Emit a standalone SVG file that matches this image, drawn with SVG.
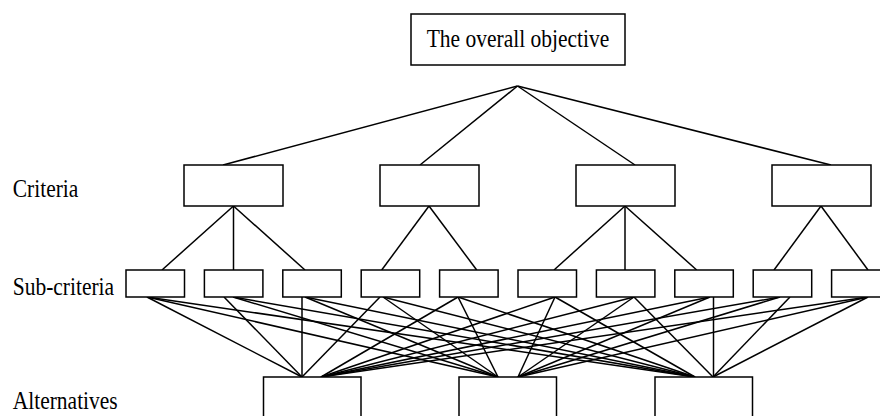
<svg xmlns="http://www.w3.org/2000/svg" width="880" height="416" viewBox="0 0 880 416">
<style>
.box{fill:#fff;stroke:#000;stroke-width:1.5}
.ln{stroke:#000;stroke-width:1.5;fill:none}
.t{font-family:"Liberation Serif","Times New Roman",serif;font-size:21.5px;fill:#000}
</style>
<rect width="880" height="416" fill="#fff"/>
<g id="connectors" class="ln">
<line x1="517.5" y1="86" x2="223" y2="165"/>
<line x1="517.5" y1="86" x2="420" y2="165"/>
<line x1="517.5" y1="86" x2="635" y2="165"/>
<line x1="517.5" y1="86" x2="831" y2="165"/>
<line x1="233.5" y1="206" x2="162" y2="270"/>
<line x1="233.5" y1="206" x2="233.5" y2="270"/>
<line x1="233.5" y1="206" x2="305" y2="270"/>
<line x1="429" y1="206" x2="381.7" y2="270"/>
<line x1="429" y1="206" x2="476.7" y2="270"/>
<line x1="625" y1="206" x2="554" y2="270"/>
<line x1="625" y1="206" x2="625" y2="270"/>
<line x1="625" y1="206" x2="696.7" y2="270"/>
<line x1="821" y1="206" x2="774" y2="270"/>
<line x1="821" y1="206" x2="868" y2="270"/>
<line x1="147" y1="297" x2="302" y2="377"/>
<line x1="147" y1="297" x2="498" y2="377"/>
<line x1="147" y1="297" x2="695" y2="377"/>
<line x1="224" y1="297" x2="302" y2="377"/>
<line x1="233" y1="297" x2="498" y2="377"/>
<line x1="233" y1="297" x2="695" y2="377"/>
<line x1="302" y1="297" x2="302" y2="377"/>
<line x1="305" y1="297" x2="498" y2="377"/>
<line x1="305" y1="297" x2="695" y2="377"/>
<line x1="380" y1="297" x2="302" y2="377"/>
<line x1="383" y1="297" x2="498" y2="377"/>
<line x1="383" y1="297" x2="695" y2="377"/>
<line x1="458" y1="297" x2="321" y2="377"/>
<line x1="458" y1="297" x2="498" y2="377"/>
<line x1="458" y1="297" x2="695" y2="377"/>
<line x1="555" y1="297" x2="321" y2="377"/>
<line x1="555" y1="297" x2="518" y2="377"/>
<line x1="555" y1="297" x2="695" y2="377"/>
<line x1="634" y1="297" x2="321" y2="377"/>
<line x1="634" y1="297" x2="518" y2="377"/>
<line x1="634" y1="297" x2="713" y2="377"/>
<line x1="710" y1="297" x2="321" y2="377"/>
<line x1="710" y1="297" x2="518" y2="377"/>
<line x1="713.5" y1="297" x2="713.5" y2="377"/>
<line x1="780" y1="297" x2="321" y2="377"/>
<line x1="780" y1="297" x2="518" y2="377"/>
<line x1="790" y1="297" x2="713" y2="377"/>
<line x1="868" y1="297" x2="321" y2="377"/>
<line x1="868" y1="297" x2="518" y2="377"/>
<line x1="868" y1="297" x2="713" y2="377"/>
</g>
<g id="objective"><rect class="box" x="411" y="14" width="214" height="51"/><text class="t" text-anchor="middle" transform="translate(518,46.7) scale(1,1.22)">The overall objective</text></g>
<g id="label-criteria"><text class="t" transform="translate(12.7,196.7) scale(1,1.22)">Criteria</text></g>
<g id="label-subcriteria"><text class="t" transform="translate(12.7,295) scale(1,1.22)">Sub-criteria</text></g>
<g id="label-alternatives"><text class="t" transform="translate(12.7,409.3) scale(1,1.22)">Alternatives</text></g>
<g id="c1"><rect class="box" x="184" y="165" width="99" height="41"/></g>
<g id="c2"><rect class="box" x="380" y="165" width="99" height="41"/></g>
<g id="c3"><rect class="box" x="576" y="165" width="99" height="41"/></g>
<g id="c4"><rect class="box" x="772" y="165" width="99" height="41"/></g>
<g id="s1"><rect class="box" x="126" y="270" width="58.5" height="27"/></g>
<g id="s2"><rect class="box" x="204.4" y="270" width="58.5" height="27"/></g>
<g id="s3"><rect class="box" x="282.8" y="270" width="58.5" height="27"/></g>
<g id="s4"><rect class="box" x="361.2" y="270" width="58.5" height="27"/></g>
<g id="s5"><rect class="box" x="439.6" y="270" width="58.5" height="27"/></g>
<g id="s6"><rect class="box" x="518" y="270" width="58.5" height="27"/></g>
<g id="s7"><rect class="box" x="596.4" y="270" width="58.5" height="27"/></g>
<g id="s8"><rect class="box" x="674.8" y="270" width="58.5" height="27"/></g>
<g id="s9"><rect class="box" x="753.2" y="270" width="58.5" height="27"/></g>
<g id="s10"><rect class="box" x="831.6" y="270" width="58.5" height="27"/></g>
<g id="a1"><rect class="box" x="263.5" y="377" width="97.5" height="50"/></g>
<g id="a2"><rect class="box" x="459" y="377" width="97.5" height="50"/></g>
<g id="a3"><rect class="box" x="655" y="377" width="97.5" height="50"/></g>
</svg>
